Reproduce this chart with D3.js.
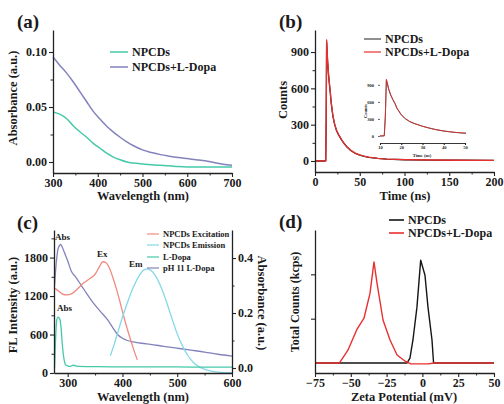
<!DOCTYPE html>
<html><head><meta charset="utf-8">
<script src="https://cdn.jsdelivr.net/npm/d3@7"></script>
<style>
body{margin:0;background:#fff}
svg text{font-family:"Liberation Serif","Times New Roman",serif;font-weight:bold;fill:#1a1a1a}
</style></head><body>
<svg id="fig" width="504" height="404"></svg>
<script>
// ---------- (a) UV-vis absorbance ----------
const aWavelength = [300,315,330,345,360,375,390,405,420,435,450,465,480,500,520,540,560,580,600,620,640,660,680,700];
const aNPCDs      = [0.0455,0.0435,0.0395,0.033,0.0275,0.0225,0.017,0.0125,0.008,0.0045,0.002,0.0,-0.001,-0.0018,-0.0025,-0.003,-0.0035,-0.0042,-0.0045,-0.0045,-0.0045,-0.0045,-0.0045,-0.0045];
const aNPCDsDopa  = [0.0955,0.088,0.081,0.073,0.064,0.055,0.046,0.039,0.0325,0.0272,0.0225,0.0183,0.0148,0.011,0.0086,0.0067,0.0053,0.0041,0.0031,0.0021,0.0011,-0.0005,-0.002,-0.003];
const aXTicks = [300,400,500,600,700];
const aYTicks = [0,0.05,0.10];

// ---------- (b) fluorescence decay ----------
const bTime      = [0,5,10,12,12.5,13,13.5,14,15,16,17,18,20,22,24,26,28,30,33,36,40,45,50,55,60,70,80,100,130,160,200];
const bNPCDs     = [0,0,0,2,330,980,915,830,720,640,570,485,370,300,252,220,195,170,140,113,86,63,48,38,30,21,15,10,7,6,5];
const bNPCDsDopa = [0,0,0,2,350,1000,930,840,730,650,580,490,375,305,255,222,198,172,142,115,88,65,50,40,32,22,16,11,8,6,5];
const bXTicks = [0,50,100,150,200];
const bYTicks = [0,300,600,900];
const bInsetXTicks = [10,20,30,40,50];
const bInsetYTicks = [0,300,600,900];

// ---------- (c) excitation / emission / absorbance ----------
const cExWave = [275,280,285,290,295,300,310,320,330,340,350,358,364,370,376,382,390,396,404,411,420,427];
const cExFL   = [1330,1300,1265,1235,1220,1218,1250,1330,1410,1470,1540,1660,1735,1720,1640,1500,1280,1090,830,624,380,205];
const cEmWave = [378,385,392,400,410,420,430,438,445,452,460,470,480,490,500,510,520,530,540,550,560,575,600];
const cEmFL   = [270,450,650,870,1120,1340,1510,1600,1620,1600,1520,1350,1120,860,610,415,265,160,95,58,34,14,5];
const cLDopaWave = [276,277,279,280,282,284,286,288,290,292,294,296,300,305,310,320,350,400,450,500,550,600];
const cLDopaAbs  = [0.0,0.06,0.15,0.175,0.185,0.183,0.175,0.145,0.09,0.05,0.025,0.012,0.008,0.006,0.01,0.006,0.005,0.004,0.004,0.004,0.003,0.003];
const cPhWave = [276,279,282,285,287,290,294,300,306,315,325,335,347,360,373,382,391,400,409,420,435,451,475,500,525,550,575,600];
const cPhAbs  = [0.30,0.38,0.43,0.445,0.45,0.44,0.42,0.39,0.355,0.33,0.30,0.27,0.236,0.205,0.175,0.148,0.122,0.108,0.100,0.095,0.090,0.086,0.079,0.072,0.065,0.058,0.050,0.043];
const cXTicks = [300,400,500,600];
const cYTicks = [0,600,1200,1800];
const cY2Ticks = [0,0.2,0.4];

// ---------- (d) zeta potential ----------
const dZetaNPCDs   = [-75,-10.8,-8.7,-6.6,-3.8,-1.2,1.8,3.9,6.7,7.8,50];
const dCountsNPCDs = [0,0,0.11,0.52,1.26,2.32,1.98,1.26,0.52,0,0];
const dZetaDopa    = [-75,-58,-52,-45.7,-40.8,-36.6,-33.8,-31.7,-27.5,-22.6,-17.7,-12,-8,4,8,50];
const dCountsDopa  = [0,0,0.29,0.76,1.01,1.57,2.28,1.8,0.97,0.52,0.18,0.04,-0.02,-0.02,0,0];
const dXTicks = [-75,-50,-25,0,25,50];

const C = {teal:"#45c9a9", purple:"#8282bd", red:"#e8302f", black:"#151515",
           salmon:"#f08a80", cyan:"#84d8e6"};

const svg = d3.select("#fig");

function drawAxis(kind, scale, tr, major, minor, fmt, fs){
  const gen = {bottom:d3.axisBottom, left:d3.axisLeft, right:d3.axisRight}[kind];
  if (minor) {
    svg.append("g").attr("transform", tr)
      .call(gen(scale).tickValues(minor).tickSize(2.5).tickSizeOuter(0).tickFormat(""))
      .call(g => g.select(".domain").remove())
      .selectAll("line").attr("stroke", "#222");
  }
  const g = svg.append("g").attr("transform", tr)
    .call(gen(scale).tickValues(major).tickSize(4).tickSizeOuter(0).tickPadding(kind === "bottom" ? 1 : 2).tickFormat(fmt));
  g.attr("font-size", fs);
  g.select(".domain").attr("stroke", "#222").attr("stroke-width", 1.3);
  g.selectAll("line").attr("stroke", "#222").attr("stroke-width", 1.1);
  return g;
}
function range(a, b, s){ const r=[]; for(let v=a; v<=b+1e-9; v+=s) r.push(+v.toFixed(6)); return r; }
function text(x, y, s, fs, opts={}){
  const t = svg.append("text").attr("x", x).attr("y", y).attr("font-size", fs).text(s);
  if (opts.anchor) t.attr("text-anchor", opts.anchor);
  if (opts.rotate) t.attr("transform", `rotate(${opts.rotate},${x},${y})`);
  return t;
}
function path(xs, ys, sx, sy, color, w, curve, clip){
  const p = svg.append("path")
    .datum(xs.map((x,i)=>[x, ys[i]]))
    .attr("fill","none").attr("stroke", color).attr("stroke-width", w)
    .attr("stroke-linejoin","round")
    .attr("d", d3.line().x(d=>sx(d[0])).y(d=>sy(d[1])).curve(curve || d3.curveLinear));
  if (clip) p.attr("clip-path", `url(#${clip})`);
  return p;
}
function legendRow(x1, x2, y, color, label, fs, w){
  svg.append("line").attr("x1",x1).attr("x2",x2).attr("y1",y).attr("y2",y)
    .attr("stroke", color).attr("stroke-width", w || 1.5);
  text(x2 + 4, y + fs*0.35, label, fs);
}

// ===== (a) =====
{
  const x = d3.scaleLinear().domain([300,700]).range([53,232]);
  const y = d3.scaleLinear().domain([-0.01,0.12]).range([173,30]);
  path(aWavelength, aNPCDs, x, y, C.teal, 1.5, d3.curveMonotoneX);
  path(aWavelength, aNPCDsDopa, x, y, C.purple, 1.5, d3.curveMonotoneX);
  drawAxis("bottom", x, "translate(0,173)", aXTicks, range(350,650,100), d3.format("d"), 12);
  drawAxis("left", y, "translate(53,0)", aYTicks, [0.025,0.075], d3.format(".2f"), 12);
  text(17, 28, "(a)", 19);
  text(17, 98, "Absorbance (a.u.)", 12.5, {anchor:"middle", rotate:-90});
  text(143, 200, "Wavelength (nm)", 12.5, {anchor:"middle"});
  legendRow(110, 128, 52, C.teal, "NPCDs", 12);
  legendRow(110, 128, 67, C.purple, "NPCDs+L-Dopa", 12);
}

// ===== (b) =====
{
  const x = d3.scaleLinear().domain([0,200]).range([315,494]);
  const y = d3.scaleLinear().domain([-91,1082]).range([172,30]);
  path(bTime, bNPCDs, x, y, C.black, 1.3);
  path(bTime, bNPCDsDopa, x, y, C.red, 1.3);
  drawAxis("bottom", x, "translate(0,172)", bXTicks, range(25,175,50), d3.format("d"), 12);
  drawAxis("left", y, "translate(315,0)", bYTicks, [150,450,750], d3.format("d"), 12);
  text(279, 28, "(b)", 19);
  text(287, 100, "Counts", 12.5, {anchor:"middle", rotate:-90});
  text(405, 200, "Time (ns)", 12.5, {anchor:"middle"});
  legendRow(364, 381, 39, "#444", "NPCDs", 12, 1.2);
  legendRow(364, 381, 52, C.red, "NPCDs+L-Dopa", 12, 1.2);

  // inset: first 50 ns
  const ix = d3.scaleLinear().domain([10,50]).range([380,465]);
  const iy = d3.scaleLinear().domain([-124,1020]).range([143,78]);
  svg.append("clipPath").attr("id","inset").append("rect")
    .attr("x",380).attr("y",76).attr("width",86).attr("height",68);
  path(bTime, bNPCDs, ix, iy, C.black, 0.8, null, "inset");
  path(bTime, bNPCDsDopa, ix, iy, C.red, 0.8, null, "inset");
  const gx = drawAxis("bottom", ix, "translate(0,143)", bInsetXTicks, null, d3.format("d"), 4.5);
  gx.selectAll("line").attr("y2", 2);
  gx.selectAll("text").attr("y", 2.5).attr("dy", "0.7em");
  gx.select(".domain").attr("stroke-width", 0.9);
  const gy = drawAxis("left", iy, "translate(380,0)", bInsetYTicks, null, d3.format("d"), 4.5);
  gy.select(".domain").remove();
  gy.selectAll("line").attr("x2", -2).attr("stroke-width", 0.7);
  text(367, 111, "Counts", 4.5, {anchor:"middle", rotate:-90});
  text(422, 157, "Time (ns)", 4.5, {anchor:"middle"});
}

// ===== (c) =====
{
  const x  = d3.scaleLinear().domain([275,600]).range([54,232]);
  const y  = d3.scaleLinear().domain([0,2230]).range([373,230]);
  const y2 = d3.scaleLinear().domain([-0.0182,0.502]).range([373,230]);
  path(cPhWave, cPhAbs, x, y2, C.purple, 1.3, d3.curveMonotoneX);
  path(cExWave, cExFL, x, y, C.salmon, 1.3, d3.curveMonotoneX);
  path(cEmWave, cEmFL, x, y, C.cyan, 1.3, d3.curveMonotoneX);
  path(cLDopaWave, cLDopaAbs, x, y2, C.teal, 1.3, d3.curveMonotoneX);
  drawAxis("bottom", x, "translate(0,373)", cXTicks, [350,450,550], d3.format("d"), 12);
  drawAxis("left", y, "translate(54,0)", cYTicks, [300,900,1500,2100], d3.format("d"), 12);
  drawAxis("right", y2, "translate(232,0)", cY2Ticks, [0.1,0.3], d3.format(".1f"), 12);
  text(17, 229, "(c)", 19);
  text(17, 305, "FL Intensity (a.u.)", 12.5, {anchor:"middle", rotate:-90});
  text(143, 401, "Wavelength (nm)", 12.5, {anchor:"middle"});
  text(258, 303, "Absorbance (a.u.)", 12.5, {anchor:"middle", rotate:90});
  text(55, 240, "Abs", 9);
  text(57, 311, "Abs", 9);
  text(97, 257, "Ex", 9);
  text(129, 267, "Em", 9);
  legendRow(147, 159, 234, C.salmon, "NPCDs Excitation", 8.5, 1.2);
  legendRow(147, 159, 245, C.cyan, "NPCDs Emission", 8.5, 1.2);
  legendRow(147, 159, 257, C.teal, "L-Dopa", 8.5, 1.2);
  legendRow(147, 159, 268, C.purple, "pH 11 L-Dopa", 8.5, 1.2);
}

// ===== (d) =====
{
  const x = d3.scaleLinear().domain([-75,50]).range([315,494]);
  const y = d3.scaleLinear().domain([-0.225,3]).range([373,230]);
  path(dZetaNPCDs, dCountsNPCDs, x, y, C.black, 1.4);
  path(dZetaDopa, dCountsDopa, x, y, C.red, 1.4);
  drawAxis("bottom", x, "translate(0,373)", dXTicks, range(-62.5,37.5,25), d3.format("d"), 12);
  drawAxis("left", y, "translate(315,0)", [1,2], null, () => "", 12);
  text(279, 228, "(d)", 19);
  text(299, 302, "Total Counts (kcps)", 12, {anchor:"middle", rotate:-90});
  text(404, 401, "Zeta Potential (mV)", 12.5, {anchor:"middle"});
  legendRow(389, 404, 220, C.black, "NPCDs", 12, 1.6);
  legendRow(389, 404, 233, C.red, "NPCDs+L-Dopa", 12, 1.6);
}
</script>
</body></html>
